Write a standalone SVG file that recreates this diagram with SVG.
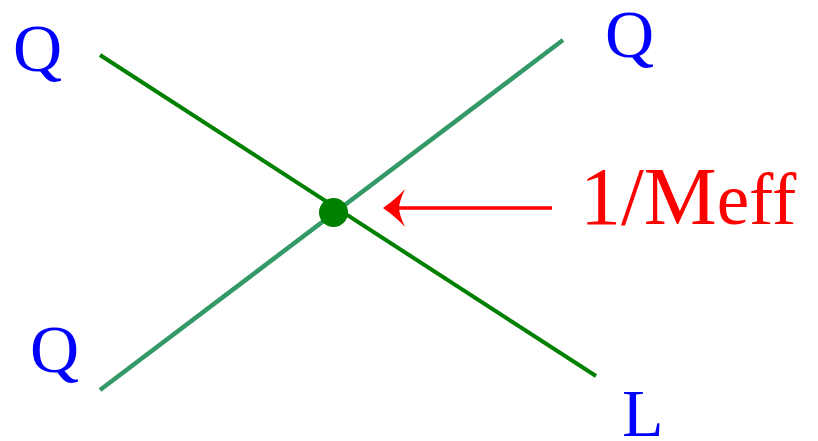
<svg xmlns="http://www.w3.org/2000/svg" width="818" height="441" viewBox="0 0 818 441">
<style>
.lbl{font-family:"Liberation Serif","Times New Roman",serif;fill:#0000ff;font-size:68px}
.red{font-family:"Liberation Serif","Times New Roman",serif;fill:#ff0000}
</style>
<rect width="818" height="441" fill="#ffffff"/>
<g id="connectors">
<line x1="100" y1="55" x2="596" y2="376" stroke="#008000" stroke-width="4"/>
<line x1="100" y1="390" x2="563" y2="40" stroke="#339966" stroke-width="4.5"/>
<line x1="397" y1="208" x2="552" y2="208" stroke="#ff0000" stroke-width="3.5"/>
<path d="M383,208 Q396,199 405,189 Q399,202 399,208 Q399,214 405,227 Q396,217 383,208 Z" fill="#ff0000"/>
</g>
<g id="vertex"><circle cx="333.5" cy="212.5" r="14.5" fill="#008000"/></g>
<g id="q1"><text class="lbl" x="13" y="71">Q</text></g>
<g id="q2"><text class="lbl" x="605" y="57">Q</text></g>
<g id="q3"><text class="lbl" x="30" y="372">Q</text></g>
<g id="l"><text class="lbl" x="622" y="436">L</text></g>
<g id="label"><text class="red" x="580" y="224" font-size="82">1/M<tspan font-size="73">eff</tspan></text></g>
</svg>
